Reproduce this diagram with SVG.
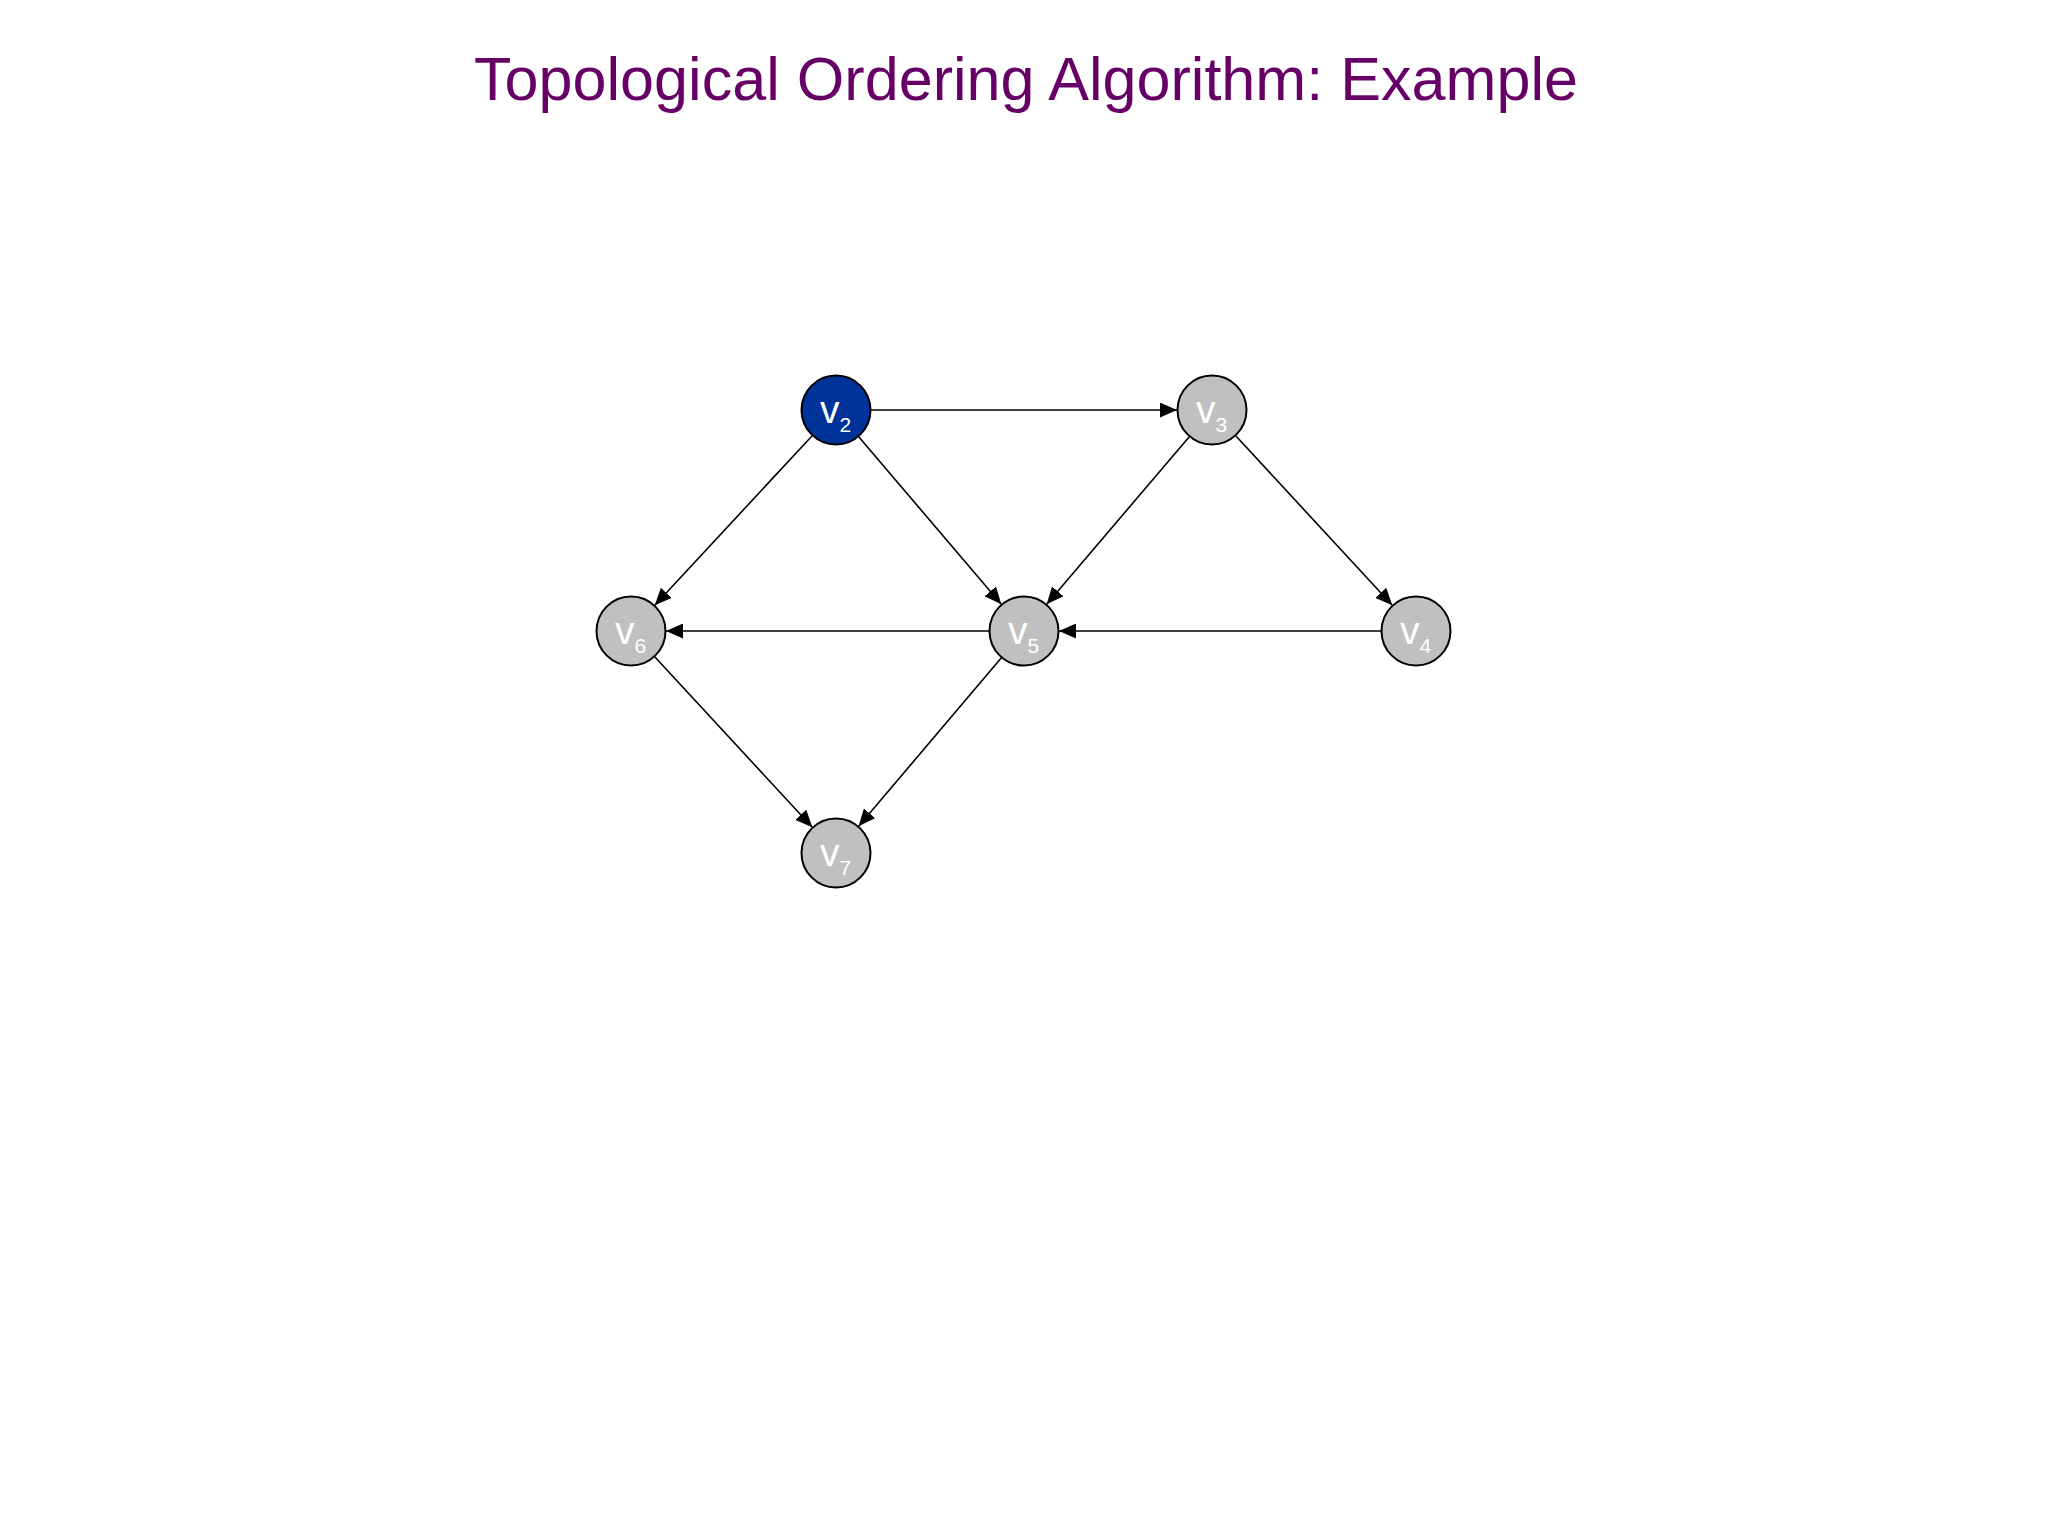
<svg xmlns="http://www.w3.org/2000/svg" width="2048" height="1536" viewBox="0 0 2048 1536">
<style>
.title{font-family:"Comic Sans MS","Liberation Sans","DejaVu Sans",sans-serif;font-size:62px;fill:#660066;}
.node circle{stroke:#000;stroke-width:2;}
.gray circle{fill:#c0c0c0;}
.blue circle{fill:#003399;}
.lbl{font-family:"Liberation Sans",Arial,sans-serif;fill:#fff;font-size:39px;}
.sub{font-size:21px;}
.edges line{stroke:#000;stroke-width:1.6;marker-end:url(#arr);}
</style>
<defs>
<marker id="arr" markerUnits="userSpaceOnUse" markerWidth="17" markerHeight="15" refX="17" refY="7.5" orient="auto">
<path d="M0,0 L17,7.5 L0,15 Z" fill="#000"/>
</marker>
</defs>
<rect width="2048" height="1536" fill="#fff"/>
<text class="title" x="1026" y="100" text-anchor="middle" textLength="1104" lengthAdjust="spacingAndGlyphs">Topological Ordering Algorithm:  Example</text>
<g class="edges" id="edges">
<line x1="871" y1="410" x2="1177" y2="410"/>
<line x1="812.2" y1="435.7" x2="654.8" y2="605.3"/>
<line x1="858.7" y1="436.7" x2="1001.3" y2="604.3"/>
<line x1="1189.3" y1="436.7" x2="1046.7" y2="604.3"/>
<line x1="1235.7" y1="435.7" x2="1392.3" y2="605.3"/>
<line x1="1381" y1="631" x2="1059" y2="631"/>
<line x1="989" y1="631" x2="666" y2="631"/>
<line x1="654.7" y1="656.7" x2="812.3" y2="827.3"/>
<line x1="1001.4" y1="657.7" x2="858.6" y2="826.3"/>
</g>
<g id="v2" class="node blue"><circle cx="836" cy="410" r="34.5"/><text class="lbl" x="820" y="423">v<tspan class="sub" dy="9">2</tspan></text></g>
<g id="v3" class="node gray"><circle cx="1212" cy="410" r="34.5"/><text class="lbl" x="1196" y="423">v<tspan class="sub" dy="9">3</tspan></text></g>
<g id="v4" class="node gray"><circle cx="1416" cy="631" r="34.5"/><text class="lbl" x="1400" y="644">v<tspan class="sub" dy="9">4</tspan></text></g>
<g id="v5" class="node gray"><circle cx="1024" cy="631" r="34.5"/><text class="lbl" x="1008" y="644">v<tspan class="sub" dy="9">5</tspan></text></g>
<g id="v6" class="node gray"><circle cx="631" cy="631" r="34.5"/><text class="lbl" x="615" y="644">v<tspan class="sub" dy="9">6</tspan></text></g>
<g id="v7" class="node gray"><circle cx="836" cy="853" r="34.5"/><text class="lbl" x="820" y="866">v<tspan class="sub" dy="9">7</tspan></text></g>
</svg>
